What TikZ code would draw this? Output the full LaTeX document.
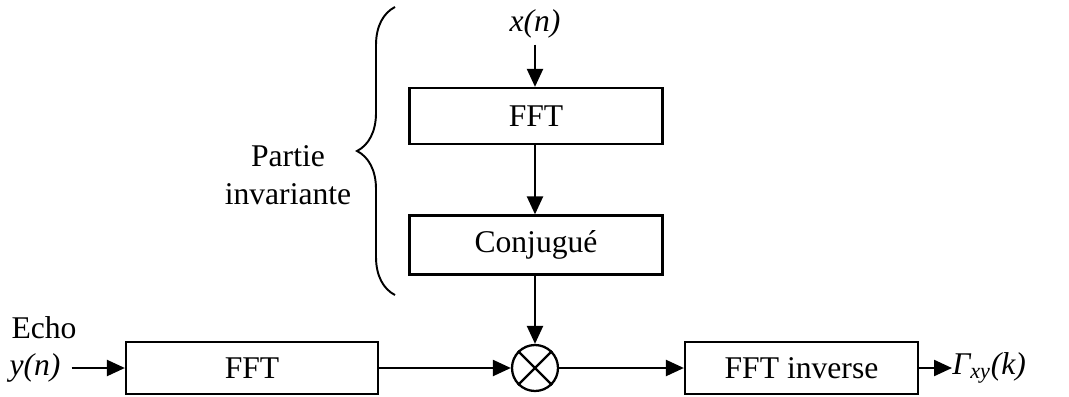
\documentclass[tikz,border=0pt]{standalone}
\usepackage{fontspec}
\setmainfont{Liberation Serif}
\usepackage{tikz}
\usetikzlibrary{positioning,arrows.meta,decorations.pathreplacing}

\tikzset{
  blockbox/.style={draw, line width=1.3pt, minimum height=1.12cm, inner sep=0pt},
  sigarrow/.style={-{Triangle[length=0.36cm,width=0.32cm]}, line width=1.3pt}
}

\begin{document}
\begin{tikzpicture}[x=0.02cm, y=-0.02cm, font=\fontsize{18}{21.5}\selectfont]
  \useasboundingbox (0,0) rectangle (1069,396);
  % upper branch
  \node (xin) at (535,24) {\itshape x(n)};
  \node[blockbox, minimum width=5.06cm] (fftx) at (536,116) {FFT};
  \node[blockbox, minimum width=5.06cm, minimum height=1.18cm] (conj) at (536,245) {Conjugué};
  % lower branch
  \node[draw, circle, line width=1.3pt, minimum size=0.92cm, inner sep=0pt] (mult) at (535,368) {};
  \draw[line width=1.3pt] (mult.north west) -- (mult.south east) (mult.north east) -- (mult.south west);
  \node[blockbox, minimum width=5.04cm, minimum height=1.04cm] (ffty) at (252,368) {FFT};
  \node[blockbox, minimum width=4.66cm, minimum height=1.04cm] (ifft) at (801.5,368) {FFT inverse};
  \node (echo) at (44,328) {Echo};
  \node (yin) at (35,368) {\itshape y(n)};
  \node[anchor=west, inner sep=0pt] (gout) at (952,368) {\itshape Γ\textsubscript{xy}(k)};
  % connectors
  \draw[sigarrow] (xin.south -| mult) -- (fftx.north -| mult);
  \draw[sigarrow] (fftx.south -| mult) -- (conj.north -| mult);
  \draw[sigarrow] (conj.south -| mult) -- (mult.north);
  \draw[sigarrow, shorten <=0.1cm] (yin.east) -- (ffty.west);
  \draw[sigarrow] (ffty.east) -- (mult.west);
  \draw[sigarrow] (mult.east) -- (ifft.west);
  \draw[sigarrow] (ifft.east) -- (gout.west);
  % invariant part
  \draw[line width=1.1pt, decorate, decoration={brace, amplitude=0.76cm}] (395,295) -- (395,7);
  \node[align=center] (inv) at (288,175) {Partie\\invariante};
\end{tikzpicture}
\end{document}
